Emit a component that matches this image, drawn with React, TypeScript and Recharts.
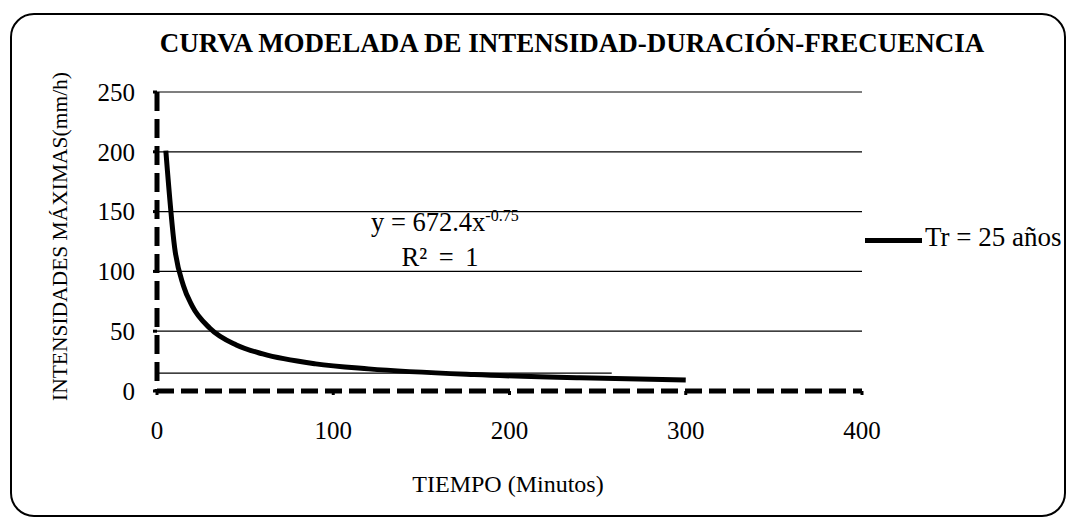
import React from 'react';
import { LineChart, Line, XAxis, YAxis, ReferenceLine } from 'recharts';

const durations = [5, 10, 15, 20, 30, 45, 60, 90, 120, 180, 240, 300];
const intensities = [201, 120, 88, 71, 52.5, 38.5, 31, 22.7, 18.5, 13.7, 11, 9.3];
const xTicks = [0, 100, 200, 300, 400];
const yTicks = [0, 50, 100, 150, 200, 250];
const gridValues = [50, 100, 150, 200, 250];
const lowLine = { y: 15, xStart: 0, xEnd: 258 };
const seriesName = 'Tr = 25 años';
const title = 'CURVA MODELADA DE INTENSIDAD-DURACIÓN-FRECUENCIA';
const xLabel = 'TIEMPO (Minutos)';
const yLabel = 'INTENSIDADES MÁXIMAS(mm/h)';

const data = durations.map((d, i) => ({ t: d, v: intensities[i] }));

const FONT = '"Liberation Serif", "Times New Roman", serif';

export default function App() {
  return (
    <div style={{ position: 'absolute', left: 0, top: 0, width: 1071, height: 519, background: '#fff', fontFamily: FONT, overflow: 'hidden' }}>
      <div style={{ position: 'absolute', left: 10, top: 13, width: 1052, height: 500, border: '2px solid #000', borderRadius: 24 }} />
      <div style={{ position: 'absolute', left: 0, top: 28, width: 1144, textAlign: 'center', fontSize: 27, fontWeight: 'bold', color: '#000' }}>{title}</div>
      <div style={{ position: 'absolute', left: 0, top: 471, width: 1016, textAlign: 'center', fontSize: 24, color: '#000' }}>{xLabel}</div>
      <div style={{ position: 'absolute', left: 60, top: 238, width: 0, height: 0 }}>
        <div style={{ position: 'absolute', left: -250, top: -14, width: 500, textAlign: 'center', fontSize: 21.5, transform: 'rotate(-90deg)', whiteSpace: 'nowrap', color: '#000' }}>{yLabel}</div>
      </div>
      <div style={{ position: 'absolute', left: 371, top: 207, fontSize: 26.5, color: '#000', whiteSpace: 'nowrap' }}>
        y = 672.4x<sup style={{ fontSize: 16 }}>-0.75</sup>
      </div>
      <div style={{ position: 'absolute', left: 380, top: 242, width: 120, textAlign: 'center', fontSize: 26.5, wordSpacing: 5, color: '#000', whiteSpace: 'nowrap' }}>R² = 1</div>
      <div style={{ position: 'absolute', left: 865, top: 222, display: 'flex', alignItems: 'center', fontSize: 27, color: '#000', whiteSpace: 'nowrap' }}>
        <span style={{ display: 'inline-block', width: 57, height: 5, background: '#000', marginRight: 3, marginTop: 6 }} />
        {seriesName}
      </div>
      <div style={{ position: 'absolute', left: 0, top: 0 }}>
        <LineChart width={1071} height={519} data={data} margin={{ top: 92, right: 209, bottom: 98, left: 97 }}>
          {gridValues.map((g) => (
            <ReferenceLine key={g} y={g} stroke="#000" strokeWidth={1.2} ifOverflow="visible" />
          ))}
          <ReferenceLine
            segment={[{ x: lowLine.xStart, y: lowLine.y }, { x: lowLine.xEnd, y: lowLine.y }]}
            stroke="#000"
            strokeWidth={1.2}
          />
          <XAxis
            dataKey="t"
            type="number"
            domain={[0, 400]}
            ticks={xTicks}
            height={30}
            axisLine={{ stroke: '#000', strokeWidth: 5, strokeDasharray: '17 7' }}
            tickLine={{ stroke: '#000', strokeWidth: 3 }}
            tickSize={4}
            tickMargin={26}
            tick={{ fill: '#000', fontSize: 25, fontFamily: FONT }}
          />
          <YAxis
            type="number"
            domain={[0, 250]}
            ticks={yTicks}
            width={60}
            axisLine={{ stroke: '#000', strokeWidth: 5, strokeDasharray: '19 8' }}
            tickLine={{ stroke: '#000', strokeWidth: 3 }}
            tickSize={4}
            tickMargin={18}
            tick={{ fill: '#000', fontSize: 25, fontFamily: FONT }}
          />
          <Line
            type="monotone"
            dataKey="v"
            name={seriesName}
            stroke="#000"
            strokeWidth={5}
            dot={false}
            isAnimationActive={false}
          />
        </LineChart>
      </div>
    </div>
  );
}
